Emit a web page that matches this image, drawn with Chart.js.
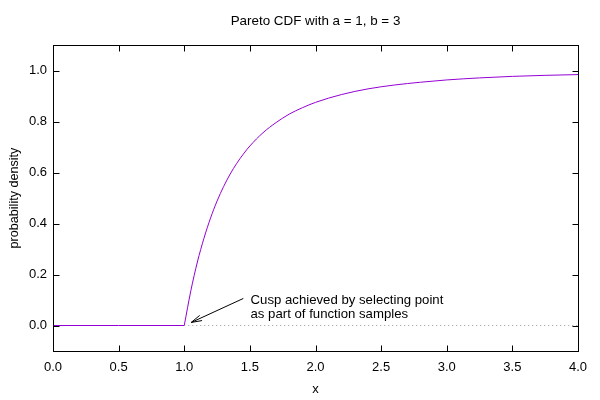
<!DOCTYPE html>
<html>
<head>
<meta charset="utf-8">
<script src="https://cdn.jsdelivr.net/npm/chart.js@4/dist/chart.umd.min.js"></script>
<style>
  body { margin: 0; background: #fff; }
</style>
</head>
<body>
<canvas id="chart" width="600" height="400"></canvas>
<script>
// values
const flatX = [0, 0.5, 1];
const flatY = [0, 0, 0];
const curveX = [1, 1.05, 1.1, 1.15, 1.2, 1.25, 1.3, 1.35, 1.4, 1.45, 1.5, 1.6, 1.7, 1.8, 1.9, 2.0, 2.2, 2.4, 2.6, 2.8, 3.0, 3.25, 3.5, 3.75, 4.0];
const curveY = [0, 0.136, 0.249, 0.342, 0.421, 0.488, 0.545, 0.594, 0.636, 0.672, 0.704, 0.756, 0.796, 0.829, 0.854, 0.875, 0.906, 0.928, 0.943, 0.954, 0.963, 0.971, 0.977, 0.981, 0.984];
const dotX = [1, 4];
const dotY = [0, 0];
const xTicks = [0, 0.5, 1, 1.5, 2, 2.5, 3, 3.5, 4];
const yTicks = [0, 0.2, 0.4, 0.6, 0.8, 1.0];

const FONT = '"Liberation Sans", Arial, sans-serif';
const PURPLE = '#9400d3';

function pts(xs, ys) {
    return xs.map((x, i) => ({x: x, y: ys[i]}));
}

// gnuplot style frame with inward ticks on all four sides, title and the arrow note
const framePlugin = {
    id: 'frame',
    afterDatasetsDraw(chart) {
        const ctx = chart.ctx;
        const a = chart.chartArea;
        const xs = chart.scales.x;
        const ys = chart.scales.y;
        ctx.save();
        ctx.strokeStyle = '#000';
        ctx.lineWidth = 1;
        const L = Math.round(a.left) + 0.5, R = Math.round(a.right) + 0.5;
        const T = Math.round(a.top) + 0.5, B = Math.round(a.bottom) + 0.5;
        ctx.strokeRect(L, T, R - L, B - T);
        ctx.beginPath();
        xTicks.forEach(v => {
            const p = Math.round(xs.getPixelForValue(v)) + 0.5;
            ctx.moveTo(p, B); ctx.lineTo(p, B - 6);
            ctx.moveTo(p, T); ctx.lineTo(p, T + 6);
        });
        yTicks.forEach(v => {
            const p = Math.round(ys.getPixelForValue(v)) + 0.5;
            ctx.moveTo(L, p); ctx.lineTo(L + 6, p);
            ctx.moveTo(R, p); ctx.lineTo(R - 6, p);
        });
        ctx.stroke();

        // title, centred over the plot area
        ctx.fillStyle = '#000';
        ctx.textAlign = 'center';
        ctx.textBaseline = 'middle';
        ctx.font = '13.4px ' + FONT;
        ctx.fillText('Pareto CDF with a = 1, b = 3', (a.left + a.right) / 2, 21.5);

        // annotation
        const x0 = xs.getPixelForValue(1.45), y0 = ys.getPixelForValue(0.106);
        const x1 = xs.getPixelForValue(1.053), y1 = ys.getPixelForValue(0.012);
        ctx.beginPath();
        ctx.moveTo(x0, y0); ctx.lineTo(x1, y1);
        const ang = Math.atan2(y0 - y1, x0 - x1);
        const hl = 11, ha = 0.26;
        ctx.moveTo(x1 + hl * Math.cos(ang + ha), y1 + hl * Math.sin(ang + ha));
        ctx.lineTo(x1, y1);
        ctx.lineTo(x1 + hl * Math.cos(ang - ha), y1 + hl * Math.sin(ang - ha));
        ctx.stroke();
        ctx.font = '13.2px ' + FONT;
        ctx.textAlign = 'left';
        const tx = xs.getPixelForValue(1.505);
        ctx.fillText('Cusp achieved by selecting point', tx, ys.getPixelForValue(0.098));
        ctx.fillText('as part of function samples', tx, ys.getPixelForValue(0.043));
        ctx.restore();
    }
};

new Chart(document.getElementById('chart'), {
    type: 'line',
    data: {
        datasets: [
            {
                data: pts(dotX, dotY),
                borderColor: '#999',
                borderWidth: 1,
                borderDash: [1, 3],
                pointRadius: 0
            },
            {
                data: pts(flatX, flatY),
                borderColor: PURPLE,
                borderWidth: 1,
                pointRadius: 0
            },
            {
                data: pts(curveX, curveY),
                borderColor: PURPLE,
                borderWidth: 1,
                pointRadius: 0,
                cubicInterpolationMode: 'monotone'
            }
        ]
    },
    options: {
        responsive: false,
        animation: false,
        layout: { padding: { left: 0, right: 22, top: 45, bottom: 0 } },
        plugins: {
            legend: { display: false },
            tooltip: { enabled: false },
            title: { display: false }
        },
        scales: {
            x: {
                type: 'linear',
                min: 0,
                max: 4,
                afterFit(scale) { scale.height = 49; },
                afterBuildTicks(scale) { scale.ticks = xTicks.map(v => ({value: v})); },
                grid: { display: false, drawTicks: false },
                border: { display: false },
                ticks: {
                    color: '#000',
                    padding: 9,
                    maxRotation: 0,
                    font: { family: FONT, size: 13 },
                    callback: v => v.toFixed(1)
                },
                title: {
                    display: true,
                    text: 'x',
                    color: '#000',
                    font: { family: FONT, size: 13 },
                    padding: { top: 0, bottom: 3 }
                }
            },
            y: {
                type: 'linear',
                min: -0.1,
                max: 1.1,
                afterFit(scale) { scale.width = 53; },
                afterBuildTicks(scale) { scale.ticks = yTicks.map(v => ({value: v})); },
                grid: { display: false, drawTicks: false },
                border: { display: false },
                ticks: {
                    color: '#000',
                    padding: 6,
                    font: { family: FONT, size: 13 },
                    callback: v => v.toFixed(1)
                },
                title: {
                    display: true,
                    text: 'probability density',
                    color: '#000',
                    font: { family: FONT, size: 12.6 },
                    padding: { top: 7, bottom: 0 }
                }
            }
        }
    },
    plugins: [framePlugin]
});
</script>
</body>
</html>
